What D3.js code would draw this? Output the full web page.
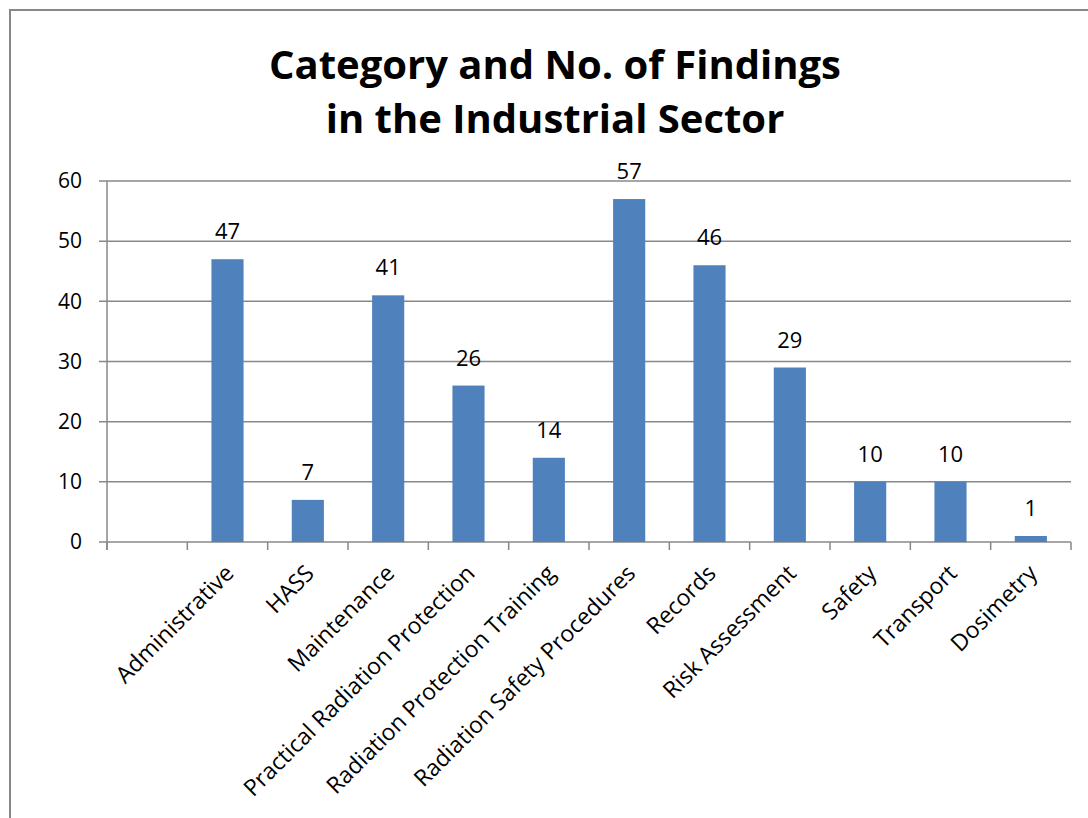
<!DOCTYPE html>
<html>
<head>
<meta charset="utf-8">
<script src="https://cdn.jsdelivr.net/npm/d3@7"></script>
<style>
  body { margin: 0; background: #fff; }
  svg { display: block; font-family: "Open Sans", sans-serif; }
</style>
</head>
<body>
<svg id="chart"></svg>
<script>
// Data (first slot is an empty category)
const categories = ["", "Administrative", "HASS", "Maintenance", "Practical Radiation Protection",
  "Radiation Protection Training", "Radiation Safety Procedures", "Records", "Risk Assessment",
  "Safety", "Transport", "Dosimetry"];
const findings = [null, 47, 7, 41, 26, 14, 57, 46, 29, 10, 10, 1];
const yTicks = [0, 10, 20, 30, 40, 50, 60];
const titleLines = ["Category and No. of Findings", "in the Industrial Sector"];

const W = 1088, H = 818;
const margin = {top: 181, right: 17, bottom: 276, left: 107};
const width = W - margin.left - margin.right;
const height = H - margin.top - margin.bottom;

const root = d3.select("#chart").attr("width", W).attr("height", H);

// outer frame
root.append("rect")
  .attr("x", 10).attr("y", 10)
  .attr("width", W + 20).attr("height", H + 20)
  .attr("fill", "none").attr("stroke", "#888").attr("stroke-width", 2);

// title
root.append("text")
  .attr("x", 555).attr("y", 79)
  .attr("text-anchor", "middle")
  .style("font-size", "40px").style("font-weight", "bold")
  .selectAll("tspan").data(titleLines).enter().append("tspan")
  .attr("x", 555).attr("dy", (d, i) => i ? 54 : 0)
  .text(d => d);

const svg = root.append("g").attr("transform", `translate(${margin.left},${margin.top})`);

const x = d3.scaleBand().domain(categories.map((d, i) => i)).range([0, width])
  .paddingInner(0.6).paddingOuter(0.3);
const y = d3.scaleLinear().domain([0, 60]).range([height, 0]);

// gridlines
svg.append("g").selectAll("line").data(yTicks).enter().append("line")
  .attr("x1", -8).attr("x2", width)
  .attr("y1", d => y(d)).attr("y2", d => y(d))
  .attr("stroke", "#888").attr("stroke-width", 1.5);

// y axis
const yAxis = svg.append("g").call(d3.axisLeft(y).tickValues(yTicks).tickSize(0).tickPadding(25));
yAxis.select(".domain").remove();
yAxis.selectAll("text").style("font-size", "21px").style("font-family", "'Open Sans', sans-serif").attr("fill", "#000");
svg.append("line").attr("x1", 0).attr("x2", 0).attr("y1", 0).attr("y2", height + 8)
  .attr("stroke", "#888").attr("stroke-width", 1.5);

// x axis ticks at slot boundaries
const step = x.step();
svg.append("g").selectAll("line").data(d3.range(categories.length + 1)).enter().append("line")
  .attr("x1", d => d * step).attr("x2", d => d * step)
  .attr("y1", height).attr("y2", height + 8)
  .attr("stroke", "#888").attr("stroke-width", 1.5);

// bars
const data = categories.map((c, i) => ({i, c, v: findings[i]})).filter(d => d.v !== null);
svg.selectAll(".bar").data(data).enter().append("rect")
  .attr("class", "bar")
  .attr("x", d => x(d.i)).attr("width", x.bandwidth())
  .attr("y", d => y(d.v)).attr("height", d => height - y(d.v))
  .attr("fill", "#4F81BD");

// value labels
svg.selectAll(".val").data(data).enter().append("text")
  .attr("class", "val")
  .attr("x", d => x(d.i) + x.bandwidth() / 2)
  .attr("y", d => y(d.v) - 20)
  .attr("text-anchor", "middle")
  .style("font-size", "22px")
  .text(d => d.v);

// category labels
svg.selectAll(".cat").data(data).enter().append("text")
  .attr("class", "cat")
  .attr("transform", d => `translate(${x(d.i) + x.bandwidth() / 2 + 2},${height + 27}) rotate(-45)`)
  .attr("text-anchor", "end")
  .attr("dy", "0.35em")
  .style("font-size", "23px")
  .text(d => d.c);
</script>
</body>
</html>
